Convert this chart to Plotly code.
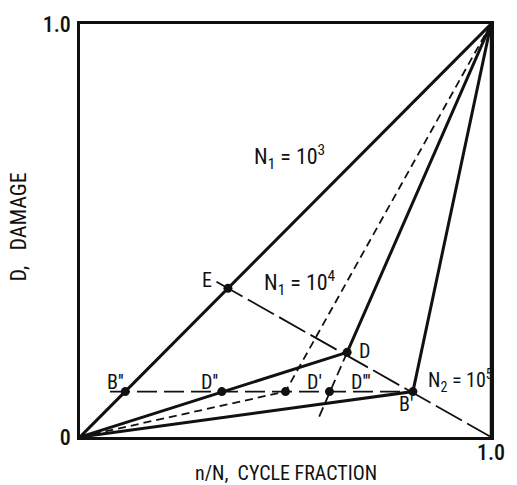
import plotly.graph_objects as go

# Damage curves: cycle fraction n/N (x) versus damage D (y)
curve_n1_1e3_x = [0.0, 1.0]
curve_n1_1e3_y = [0.0, 1.0]
curve_n1_1e4_x = [0.0, 0.65, 1.0]
curve_n1_1e4_y = [0.0, 0.205, 1.0]
curve_n2_1e5_x = [0.0, 0.81, 1.0]
curve_n2_1e5_y = [0.0, 0.11, 1.0]
curve_mid_x = [0.0, 0.5, 1.0]
curve_mid_y = [0.0, 0.11, 1.0]

# Construction lines
knee_line_x = [0.332, 1.0]          # through E, D, B' to F
knee_line_y = [0.376, 0.0]
level_line_x = [0.073, 0.81]        # constant damage level B''-B'
level_line_y = [0.11, 0.11]
cd_ext_x = [0.65, 0.58]             # extension of C-D below D'''
cd_ext_y = [0.205, 0.045]

# Marked points
point_names = ["E", "B''", "D''", "D'", "D'''", "D", "B'"]
point_x = [0.36, 0.11, 0.345, 0.50, 0.607, 0.65, 0.81]
point_y = [0.36, 0.11, 0.11, 0.11, 0.11, 0.205, 0.11]

# Axis tick labels
y_tickvals = [0, 1]
y_ticktext = ["0", "1.0"]
x_tickvals = [1]
x_ticktext = ["1.0"]

FONT = "Roboto Condensed"
INK = "#111111"

fig = go.Figure()


def add_line(x, y, width, dash="solid"):
    fig.add_trace(go.Scatter(x=x, y=y, mode="lines",
                             line=dict(color=INK, width=width, dash=dash),
                             hoverinfo="skip", showlegend=False))


add_line(curve_n1_1e3_x, curve_n1_1e3_y, 3)
add_line(curve_n1_1e4_x, curve_n1_1e4_y, 3)
add_line(curve_n2_1e5_x, curve_n2_1e5_y, 3)
add_line(curve_mid_x, curve_mid_y, 1.8, "8px,5px")
add_line(knee_line_x, knee_line_y, 1.8, "30px,6px")
add_line(level_line_x, level_line_y, 1.8, "20px,7px")
add_line(cd_ext_x, cd_ext_y, 1.8, "10px,5px")

fig.add_trace(go.Scatter(x=point_x, y=point_y, mode="markers",
                         marker=dict(color=INK, size=9),
                         hoverinfo="skip", showlegend=False))

# Right-hand boundary from C down to F
fig.add_trace(go.Scatter(x=[1.0, 1.0], y=[1.0, 0.0], mode="lines",
                         line=dict(color=INK, width=2.5),
                         hoverinfo="skip", showlegend=False))

# Point labels
label_pos = {
    "E": (0.308, 0.379),
    "B''": (0.087, 0.134),
    "D''": (0.316, 0.134),
    "D'": (0.570, 0.134),
    "D'''": (0.683, 0.134),
    "D": (0.692, 0.208),
    "B'": (0.794, 0.080),
    "C": (1.027, 1.003),
    "F": (1.015, 0.003),
    "A": (0.005, -0.038),
}
for name, (lx, ly) in label_pos.items():
    fig.add_annotation(x=lx, y=ly, text=name, showarrow=False,
                       font=dict(family=FONT, size=20, color=INK),
                       xanchor="center", yanchor="middle")

# Curve labels
curve_labels = [
    ("N<sub>1</sub> = 10<sup>3</sup>", 0.418, 0.678, 22),
    ("N<sub>1</sub> = 10<sup>4</sup>", 0.443, 0.372, 22),
    ("N<sub>2</sub> = 10<sup>5</sup>", 0.843, 0.138, 20),
]
for txt, lx, ly, fs in curve_labels:
    fig.add_annotation(x=lx, y=ly, text=txt, showarrow=False,
                       font=dict(family=FONT, size=fs, color=INK),
                       xanchor="left", yanchor="middle")

# Axis titles
fig.add_annotation(x=0.5, y=0, xref="paper", yref="paper", yshift=-36,
                   text="n/N,  CYCLE FRACTION", showarrow=False,
                   font=dict(family=FONT, size=20, color=INK),
                   xanchor="center", yanchor="middle")
fig.add_annotation(x=0, y=0.5, xref="paper", yref="paper", xshift=-62, yshift=3,
                   text="D,   DAMAGE", showarrow=False, textangle=-90,
                   font=dict(family=FONT, size=22, color=INK),
                   xanchor="center", yanchor="middle")

fig.update_xaxes(range=[0, 1], showgrid=False, zeroline=False,
                 showline=True, linecolor=INK, linewidth=2.5, mirror=True,
                 tickvals=x_tickvals, ticktext=x_ticktext, ticks="",
                 ticklabelstandoff=-6,
                 tickfont=dict(family=FONT, size=22, color=INK, weight=500))
fig.update_yaxes(range=[0, 1], showgrid=False, zeroline=False,
                 showline=True, linecolor=INK, linewidth=2.5, mirror=True,
                 tickvals=y_tickvals, ticktext=y_ticktext, ticks="",
                 ticklabelstandoff=2,
                 tickfont=dict(family=FONT, size=22, color=INK, weight=500))

fig.update_layout(width=517, height=485,
                  margin=dict(l=80, r=25, t=20, b=48),
                  paper_bgcolor="white", plot_bgcolor="white",
                  showlegend=False)

fig.write_html("out.html")
